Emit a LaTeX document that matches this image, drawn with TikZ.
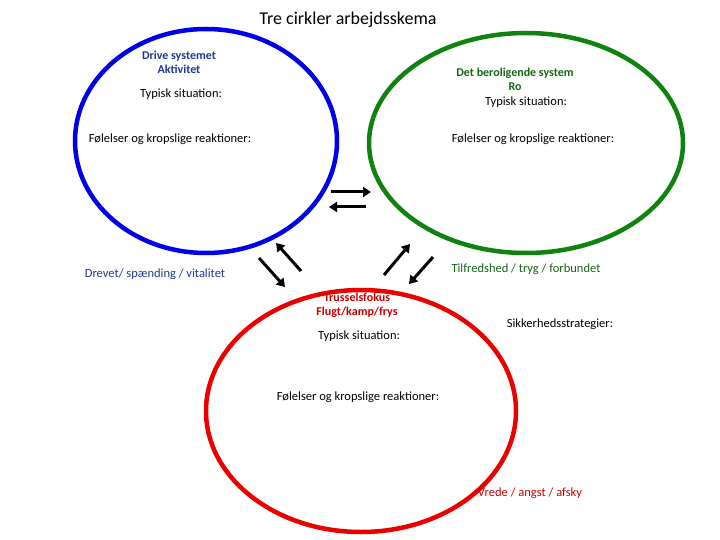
\documentclass[tikz,border=0pt]{standalone}
\usepackage{fontspec}
\setmainfont{Carlito}
\usetikzlibrary{arrows.meta}
\definecolor{drivecol}{RGB}{0,0,230}
\definecolor{rocol}{RGB}{16,130,16}
\definecolor{trusselcol}{RGB}{235,0,0}
\definecolor{navytxt}{RGB}{31,56,140}
\definecolor{greentxt}{RGB}{20,100,20}
\definecolor{redtxt}{RGB}{200,0,0}
\tikzset{
  ring/.style={line width=4.5pt},
  lbl/.style={font=\fontsize{12.5}{14}\selectfont,align=center,inner sep=0pt},
  head/.style={lbl,font=\fontsize{12}{14}\selectfont\bfseries},
  flow/.style={line width=3pt,-{Triangle[length=8pt,width=10pt]}}
}
\begin{document}
\begin{tikzpicture}[x=1pt,y=-1pt]
\useasboundingbox (0,0) rectangle (720,540);
% circles
\draw[ring,drivecol] (206,141) ellipse [x radius=131,y radius=112];
\draw[ring,rocol] (526,143) ellipse [x radius=157,y radius=110];
\draw[ring,trusselcol] (361,411) ellipse [x radius=155,y radius=121];
% title
\node[lbl,font=\fontsize{18}{20}\selectfont] (title) at (348,20) {Tre cirkler arbejdsskema};
% drive
\node[head,text=navytxt] (drive) at (179,62) {Drive systemet\\Aktivitet};
\node[lbl] (drivesit) at (181,94) {Typisk situation:};
\node[lbl] (drivefeel) at (170,139) {Følelser og kropslige reaktioner:};
\node[lbl,text=navytxt] (driveword) at (155,274) {Drevet/ spænding / vitalitet};
% ro
\node[head,text=greentxt] (ro) at (515,79) {Det beroligende system\\Ro};
\node[lbl] (rosit) at (526,102) {Typisk situation:};
\node[lbl] (rofeel) at (533,139) {Følelser og kropslige reaktioner:};
\node[lbl,text=greentxt] (roword) at (526,269) {Tilfredshed / tryg / forbundet};
% trussel
\node[head,text=redtxt] (trussel) at (357,305) {Trusselsfokus\\Flugt/kamp/frys};
\node[lbl] (trusselsit) at (359,336) {Typisk situation:};
\node[lbl] (strategi) at (560,324) {Sikkerhedsstrategier:};
\node[lbl] (trusselfeel) at (358,397) {Følelser og kropslige reaktioner:};
\node[lbl,text=redtxt] (trusselword) at (530,493) {Vrede / angst / afsky};
% arrows
\coordinate (a1) at (331,192); \coordinate (b1) at (371,192);
\coordinate (a2) at (366,207); \coordinate (b2) at (329,207);
\coordinate (a3) at (259,258); \coordinate (b3) at (285,287);
\coordinate (a4) at (301,271); \coordinate (b4) at (276,243);
\coordinate (a5) at (384,275); \coordinate (b5) at (410,244);
\coordinate (a6) at (433,257); \coordinate (b6) at (409,284);
\foreach \s/\t in {a1/b1,a2/b2,a3/b3,a4/b4,a5/b5,a6/b6}
  \draw[flow] (\s) -- (\t);
\end{tikzpicture}
\end{document}
